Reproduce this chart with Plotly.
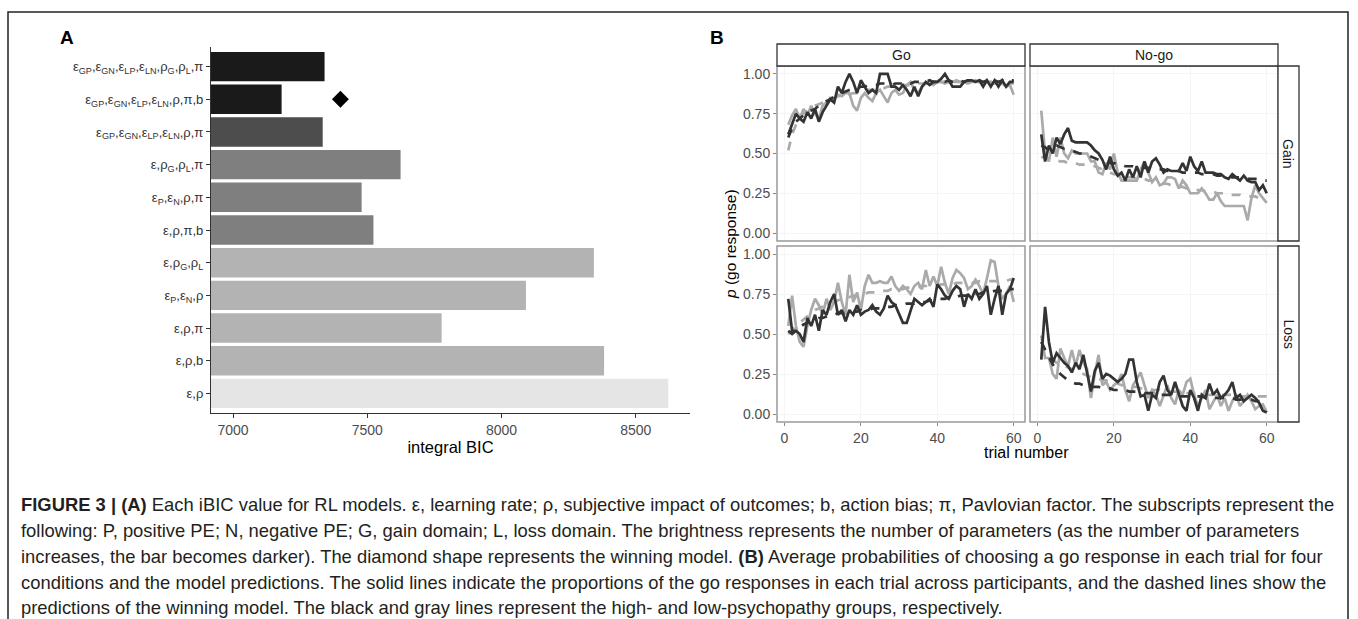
import plotly.graph_objects as go

W, H = 1358, 619

# ---------------- Panel A data ----------------
models = [
    "ε<sub>GP</sub>,ε<sub>GN</sub>,ε<sub>LP</sub>,ε<sub>LN</sub>,ρ<sub>G</sub>,ρ<sub>L</sub>,π",
    "ε<sub>GP</sub>,ε<sub>GN</sub>,ε<sub>LP</sub>,ε<sub>LN</sub>,ρ,π,b",
    "ε<sub>GP</sub>,ε<sub>GN</sub>,ε<sub>LP</sub>,ε<sub>LN</sub>,ρ,π",
    "ε,ρ<sub>G</sub>,ρ<sub>L</sub>,π",
    "ε<sub>P</sub>,ε<sub>N</sub>,ρ,π",
    "ε,ρ,π,b",
    "ε,ρ<sub>G</sub>,ρ<sub>L</sub>",
    "ε<sub>P</sub>,ε<sub>N</sub>,ρ",
    "ε,ρ,π",
    "ε,ρ,b",
    "ε,ρ",
]
ibic = [7341, 7181, 7334, 7624, 7479, 7523, 8344, 8091, 7777, 8382, 8621]
bar_colors = ["#1a1a1a", "#1a1a1a", "#4d4d4d", "#7f7f7f", "#7f7f7f", "#7f7f7f",
              "#b3b3b3", "#b3b3b3", "#b3b3b3", "#b3b3b3", "#e5e5e5"]
winner_model = models[1]
winner_x = [7400]
x_ticks_A = [7000, 7500, 8000, 8500]

# ---------------- Panel B data ----------------
trials = list(range(1, 61))

go_gain_high = [0.62, 0.68, 0.75, 0.72, 0.70, 0.76, 0.72, 0.78, 0.70, 0.76,
                0.80, 0.84, 0.82, 0.92, 0.88, 0.95, 1.00, 0.95, 0.88, 0.96,
                0.92, 0.88, 0.90, 0.88, 1.00, 1.00, 1.00, 0.92, 0.92, 0.90,
                0.93, 0.90, 0.86, 0.92, 0.86, 0.92, 0.95, 0.93, 0.95, 0.95,
                0.97, 1.00, 0.96, 0.92, 0.92, 0.92, 0.95, 0.96, 0.96, 0.95,
                0.96, 0.92, 0.96, 0.92, 0.96, 0.92, 0.96, 0.92, 0.95, 0.95]
go_gain_high_pred = [0.60, 0.66, 0.70, 0.72, 0.74, 0.76, 0.77, 0.78, 0.80, 0.82,
                     0.83, 0.84, 0.86, 0.87, 0.88, 0.89, 0.90, 0.91, 0.91, 0.92,
                     0.92, 0.93, 0.93, 0.93, 0.94, 0.94, 0.94, 0.93, 0.94, 0.94,
                     0.94, 0.95, 0.94, 0.95, 0.95, 0.95, 0.95, 0.96, 0.95, 0.95,
                     0.96, 0.95, 0.96, 0.95, 0.96, 0.96, 0.95, 0.96, 0.96, 0.95,
                     0.96, 0.95, 0.96, 0.95, 0.96, 0.95, 0.96, 0.95, 0.96, 0.96]
go_gain_low = [0.68, 0.74, 0.78, 0.72, 0.78, 0.74, 0.80, 0.75, 0.72, 0.80,
               0.82, 0.85, 0.84, 0.87, 0.86, 0.88, 0.88, 0.80, 0.77, 0.85,
               0.88, 0.85, 0.83, 0.88, 0.90, 0.86, 0.82, 0.88, 0.90, 0.87,
               0.88, 0.93, 0.95, 0.90, 0.88, 0.92, 0.94, 0.95, 0.93, 0.95,
               0.95, 0.94, 0.95, 0.95, 0.96, 0.95, 0.95, 0.94, 0.95, 0.96,
               0.95, 0.94, 0.95, 0.95, 0.94, 0.95, 0.94, 0.92, 0.93, 0.87]
go_gain_low_pred = [0.52, 0.62, 0.68, 0.72, 0.75, 0.77, 0.79, 0.80, 0.81, 0.82,
                    0.83, 0.84, 0.85, 0.86, 0.86, 0.87, 0.87, 0.88, 0.88, 0.89,
                    0.89, 0.90, 0.90, 0.90, 0.91, 0.91, 0.92, 0.92, 0.92, 0.93,
                    0.93, 0.93, 0.93, 0.94, 0.94, 0.94, 0.94, 0.94, 0.94, 0.95,
                    0.95, 0.95, 0.95, 0.95, 0.95, 0.95, 0.95, 0.95, 0.95, 0.95,
                    0.95, 0.95, 0.95, 0.95, 0.94, 0.94, 0.94, 0.94, 0.94, 0.94]

nogo_gain_high = [0.62, 0.45, 0.55, 0.50, 0.60, 0.56, 0.62, 0.66, 0.58, 0.57,
                  0.57, 0.57, 0.57, 0.55, 0.52, 0.50, 0.46, 0.40, 0.48, 0.40,
                  0.36, 0.38, 0.33, 0.40, 0.35, 0.42, 0.35, 0.45, 0.38, 0.45,
                  0.47, 0.43, 0.38, 0.40, 0.39, 0.39, 0.39, 0.44, 0.39, 0.48,
                  0.42, 0.39, 0.45, 0.38, 0.38, 0.38, 0.37, 0.37, 0.35, 0.34,
                  0.37, 0.35, 0.33, 0.36, 0.33, 0.32, 0.32, 0.27, 0.30, 0.25]
nogo_gain_high_pred = [0.55, 0.54, 0.52, 0.54, 0.55, 0.54, 0.53, 0.53, 0.52, 0.51,
                       0.50, 0.50, 0.49, 0.48, 0.47, 0.46, 0.45, 0.45, 0.44, 0.44,
                       0.43, 0.43, 0.42, 0.42, 0.42, 0.41, 0.41, 0.41, 0.41, 0.40,
                       0.40, 0.40, 0.40, 0.39, 0.39, 0.39, 0.39, 0.38, 0.38, 0.38,
                       0.38, 0.38, 0.37, 0.37, 0.37, 0.37, 0.36, 0.36, 0.36, 0.36,
                       0.35, 0.35, 0.35, 0.35, 0.34, 0.34, 0.34, 0.34, 0.33, 0.33]
nogo_gain_low = [0.77, 0.50, 0.45, 0.60, 0.48, 0.60, 0.50, 0.47, 0.52, 0.50,
                 0.50, 0.50, 0.50, 0.45, 0.45, 0.38, 0.37, 0.44, 0.40, 0.50,
                 0.38, 0.33, 0.33, 0.33, 0.33, 0.33, 0.40, 0.45, 0.38, 0.32,
                 0.35, 0.30, 0.31, 0.35, 0.35, 0.34, 0.28, 0.33, 0.30, 0.25,
                 0.25, 0.25, 0.28, 0.25, 0.21, 0.21, 0.25, 0.20, 0.17, 0.17,
                 0.17, 0.17, 0.17, 0.17, 0.08, 0.22, 0.30, 0.25, 0.22, 0.19]
nogo_gain_low_pred = [0.48, 0.47, 0.47, 0.46, 0.46, 0.45, 0.45, 0.44, 0.44, 0.44,
                      0.43, 0.43, 0.43, 0.42, 0.42, 0.41, 0.40, 0.39, 0.38, 0.37,
                      0.37, 0.36, 0.36, 0.35, 0.35, 0.34, 0.34, 0.34, 0.33, 0.33,
                      0.32, 0.32, 0.31, 0.31, 0.30, 0.30, 0.29, 0.29, 0.28, 0.28,
                      0.27, 0.27, 0.27, 0.26, 0.26, 0.26, 0.25, 0.25, 0.25, 0.24,
                      0.24, 0.24, 0.24, 0.23, 0.23, 0.23, 0.23, 0.22, 0.22, 0.22]

go_loss_high = [0.72, 0.52, 0.52, 0.50, 0.45, 0.60, 0.55, 0.62, 0.52, 0.65,
                0.62, 0.70, 0.75, 0.62, 0.65, 0.58, 0.65, 0.62, 0.68, 0.62,
                0.64, 0.65, 0.68, 0.64, 0.62, 0.66, 0.74, 0.70, 0.68, 0.62,
                0.57, 0.57, 0.65, 0.72, 0.70, 0.68, 0.70, 0.72, 0.67, 0.81,
                0.78, 0.74, 0.72, 0.77, 0.80, 0.78, 0.67, 0.75, 0.72, 0.78,
                0.72, 0.75, 0.80, 0.62, 0.72, 0.80, 0.62, 0.75, 0.78, 0.85]
go_loss_high_pred = [0.52, 0.50, 0.52, 0.54, 0.56, 0.57, 0.58, 0.59, 0.60, 0.60,
                     0.61, 0.62, 0.62, 0.63, 0.63, 0.63, 0.64, 0.64, 0.64, 0.65,
                     0.65, 0.65, 0.66, 0.66, 0.66, 0.67, 0.67, 0.67, 0.68, 0.68,
                     0.68, 0.69, 0.69, 0.69, 0.70, 0.70, 0.70, 0.71, 0.71, 0.72,
                     0.72, 0.72, 0.73, 0.73, 0.73, 0.74, 0.74, 0.74, 0.75, 0.75,
                     0.75, 0.76, 0.76, 0.76, 0.77, 0.77, 0.77, 0.78, 0.78, 0.78]
go_loss_low = [0.55, 0.74, 0.55, 0.45, 0.42, 0.55, 0.65, 0.72, 0.68, 0.62,
               0.72, 0.65, 0.70, 0.82, 0.70, 0.62, 0.87, 0.70, 0.76, 0.65,
               0.80, 0.87, 0.82, 0.82, 0.83, 0.82, 0.82, 0.86, 0.80, 0.77,
               0.80, 0.78, 0.75, 0.80, 0.82, 0.78, 0.90, 0.80, 0.86, 0.80,
               0.92, 0.82, 0.75, 0.85, 0.90, 0.88, 0.85, 0.78, 0.80, 0.84,
               0.80, 0.75, 0.85, 0.96, 0.95, 0.80, 0.72, 0.75, 0.80, 0.70]
go_loss_low_pred = [0.50, 0.52, 0.55, 0.57, 0.59, 0.61, 0.63, 0.65, 0.66, 0.67,
                    0.68, 0.69, 0.70, 0.71, 0.72, 0.72, 0.73, 0.74, 0.74, 0.75,
                    0.75, 0.76, 0.76, 0.76, 0.77, 0.77, 0.77, 0.78, 0.78, 0.78,
                    0.78, 0.79, 0.79, 0.79, 0.79, 0.80, 0.80, 0.80, 0.80, 0.80,
                    0.81, 0.81, 0.81, 0.81, 0.82, 0.82, 0.82, 0.82, 0.82, 0.82,
                    0.83, 0.83, 0.83, 0.83, 0.83, 0.83, 0.83, 0.83, 0.84, 0.84]

nogo_loss_high = [0.34, 0.67, 0.45, 0.32, 0.38, 0.35, 0.32, 0.30, 0.26, 0.32,
                  0.28, 0.37, 0.25, 0.14, 0.27, 0.32, 0.22, 0.25, 0.24, 0.22,
                  0.20, 0.22, 0.25, 0.34, 0.34, 0.20, 0.11, 0.12, 0.02, 0.12,
                  0.10, 0.20, 0.24, 0.15, 0.12, 0.20, 0.13, 0.05, 0.02, 0.15,
                  0.10, 0.02, 0.12, 0.10, 0.19, 0.12, 0.15, 0.10, 0.12, 0.15,
                  0.20, 0.10, 0.12, 0.08, 0.10, 0.12, 0.10, 0.07, 0.02, 0.01]
nogo_loss_high_pred = [0.45, 0.40, 0.35, 0.31, 0.28, 0.25, 0.23, 0.21, 0.20, 0.19,
                       0.19, 0.18, 0.18, 0.17, 0.17, 0.17, 0.16, 0.16, 0.16, 0.15,
                       0.15, 0.15, 0.15, 0.14, 0.14, 0.14, 0.14, 0.13, 0.13, 0.13,
                       0.12, 0.12, 0.12, 0.12, 0.12, 0.12, 0.11, 0.11, 0.11, 0.11,
                       0.11, 0.11, 0.11, 0.10, 0.10, 0.10, 0.10, 0.10, 0.10, 0.10,
                       0.10, 0.09, 0.09, 0.09, 0.09, 0.09, 0.08, 0.08, 0.08, 0.08]
nogo_loss_low = [0.49, 0.35, 0.35, 0.25, 0.22, 0.41, 0.35, 0.30, 0.40, 0.30,
                 0.40, 0.32, 0.28, 0.10, 0.25, 0.37, 0.18, 0.20, 0.15, 0.18,
                 0.20, 0.25, 0.15, 0.08, 0.18, 0.22, 0.26, 0.18, 0.10, 0.15,
                 0.12, 0.05, 0.12, 0.18, 0.10, 0.06, 0.15, 0.12, 0.20, 0.22,
                 0.12, 0.05, 0.10, 0.15, 0.03, 0.08, 0.12, 0.05, 0.10, 0.02,
                 0.08, 0.12, 0.05, 0.08, 0.12, 0.08, 0.03, 0.05, 0.06, 0.01]
nogo_loss_low_pred = [0.45, 0.40, 0.37, 0.34, 0.32, 0.31, 0.30, 0.29, 0.28, 0.27,
                      0.26, 0.25, 0.24, 0.23, 0.22, 0.22, 0.21, 0.21, 0.20, 0.19,
                      0.19, 0.18, 0.18, 0.17, 0.17, 0.17, 0.16, 0.16, 0.15, 0.15,
                      0.15, 0.15, 0.14, 0.14, 0.14, 0.14, 0.13, 0.13, 0.13, 0.13,
                      0.13, 0.13, 0.12, 0.12, 0.12, 0.12, 0.12, 0.12, 0.12, 0.12,
                      0.12, 0.12, 0.11, 0.11, 0.11, 0.11, 0.11, 0.11, 0.11, 0.11]

col_labels = ["Go", "No-go"]
row_labels = ["Gain", "Loss"]
y_ticks_B = [0, 0.25, 0.5, 0.75, 1.0]
y_ticktext_B = ["0.00", "0.25", "0.50", "0.75", "1.00"]
x_ticks_B = [0, 20, 40, 60]

caption_lines = [
    "<b>FIGURE 3 | (A)</b> Each iBIC value for RL models. ε, learning rate; ρ, subjective impact of outcomes; b, action bias; π, Pavlovian factor. The subscripts represent the",
    "following: P, positive PE; N, negative PE; G, gain domain; L, loss domain. The brightness represents the number of parameters (as the number of parameters",
    "increases, the bar becomes darker). The diamond shape represents the winning model. <b>(B)</b> Average probabilities of choosing a go response in each trial for four",
    "conditions and the model predictions. The solid lines indicate the proportions of the go responses in each trial across participants, and the dashed lines show the",
    "predictions of the winning model. The black and gray lines represent the high- and low-psychopathy groups, respectively.",
]

# ---------------- helpers (pixel -> paper) ----------------
def px(x):
    return x / W

def py(y):
    return 1 - y / H

FONT = "Liberation Sans, Arial, sans-serif"
BLACK_LINE = "#333333"
GRAY_LINE = "#aaaaaa"

fig = go.Figure()

# Panel A bars
fig.add_trace(go.Bar(
    x=ibic, y=models, orientation="h", marker=dict(color=bar_colors, line=dict(width=0)),
    width=0.9, xaxis="x", yaxis="y", hoverinfo="x+y"))
fig.add_trace(go.Scatter(
    x=winner_x, y=[winner_model], mode="markers",
    marker=dict(symbol="diamond", size=13, color="black"), xaxis="x", yaxis="y"))

# Panel B lines
panels = [
    ("x2", "y2", go_gain_high, go_gain_high_pred, go_gain_low, go_gain_low_pred),
    ("x3", "y3", nogo_gain_high, nogo_gain_high_pred, nogo_gain_low, nogo_gain_low_pred),
    ("x4", "y4", go_loss_high, go_loss_high_pred, go_loss_low, go_loss_low_pred),
    ("x5", "y5", nogo_loss_high, nogo_loss_high_pred, nogo_loss_low, nogo_loss_low_pred),
]
for xa, ya, hi, hi_p, lo, lo_p in panels:
    fig.add_trace(go.Scatter(x=trials, y=lo, mode="lines", line=dict(color=GRAY_LINE, width=2.7),
                             xaxis=xa, yaxis=ya))
    fig.add_trace(go.Scatter(x=trials, y=lo_p, mode="lines", line=dict(color=GRAY_LINE, width=2.7, dash="dash"),
                             xaxis=xa, yaxis=ya))
    fig.add_trace(go.Scatter(x=trials, y=hi, mode="lines", line=dict(color=BLACK_LINE, width=2.7),
                             xaxis=xa, yaxis=ya))
    fig.add_trace(go.Scatter(x=trials, y=hi_p, mode="lines", line=dict(color=BLACK_LINE, width=2.7, dash="dash"),
                             xaxis=xa, yaxis=ya))

# Geometry (pixels)
A_left, A_right, A_top, A_bot = 211, 690, 47, 413
col_x = [(777, 1025), (1030, 1278)]
row_y = [(66, 241), (246, 422)]
strip_top = 44
strip_right = 1299

tickfont = dict(family=FONT, size=14, color="#4d4d4d")

layout = dict(
    width=W, height=H, margin=dict(l=0, r=0, t=0, b=0),
    paper_bgcolor="white", plot_bgcolor="white", showlegend=False,
    font=dict(family=FONT, color="black"),
    bargap=0.1,
    xaxis=dict(domain=[px(A_left), px(A_right)], range=[6918, 8702], tickvals=x_ticks_A,
               showline=True, linecolor="#333333", linewidth=1.2, ticks="outside", ticklen=4,
               tickcolor="#333333", showgrid=False, zeroline=False, tickfont=tickfont,
               title=dict(text="integral BIC", font=dict(family=FONT, size=16.5, color="black"), standoff=3),
               anchor="y"),
    yaxis=dict(domain=[py(A_bot), py(A_top)], type="category", categoryorder="array",
               categoryarray=models, range=[10.6, -0.6], showline=True, linecolor="#333333",
               linewidth=1.2, ticks="outside", ticklen=4, tickcolor="#333333", showgrid=False,
               zeroline=False, tickfont=dict(family=FONT, size=13, color="#333333"), anchor="x"),
)

axis_ids = [("2", 0, 0), ("3", 1, 0), ("4", 0, 1), ("5", 1, 1)]
for aid, c, r in axis_ids:
    x0, x1 = col_x[c]
    y0, y1 = row_y[r]
    layout["xaxis" + aid] = dict(
        domain=[px(x0), px(x1)], range=[-1.95, 62.95], tickvals=x_ticks_B, anchor="y" + aid,
        showgrid=True, gridcolor="#f5f5f5", gridwidth=1, zeroline=False, showline=False,
        ticks="outside" if r == 1 else "", ticklen=3, tickcolor="#888888",
        showticklabels=(r == 1), tickfont=tickfont)
    layout["yaxis" + aid] = dict(
        domain=[py(y1), py(y0)], range=[-0.05, 1.05], tickvals=y_ticks_B, ticktext=y_ticktext_B,
        anchor="x" + aid, showgrid=True, gridcolor="#f5f5f5", gridwidth=1, zeroline=False,
        showline=False, ticks="outside" if c == 0 else "", ticklen=3, tickcolor="#888888",
        showticklabels=(c == 0), tickfont=tickfont)

shapes = []
annotations = []
# outer frame
shapes.append(dict(type="rect", xref="paper", yref="paper", x0=px(8), x1=px(1348), y0=py(640), y1=py(12),
                   line=dict(color="#222222", width=1.5), fillcolor="rgba(0,0,0,0)", layer="below"))
# panel B borders and strips
for c, (x0, x1) in enumerate(col_x):
    for r, (y0, y1) in enumerate(row_y):
        shapes.append(dict(type="rect", xref="paper", yref="paper", x0=px(x0), x1=px(x1), y0=py(y1), y1=py(y0),
                           line=dict(color="#999999", width=1.5), fillcolor="rgba(0,0,0,0)"))
    shapes.append(dict(type="rect", xref="paper", yref="paper", x0=px(x0), x1=px(x1), y0=py(row_y[0][0]),
                       y1=py(strip_top), line=dict(color="#333333", width=1.3), fillcolor="white"))
    annotations.append(dict(text=col_labels[c], xref="paper", yref="paper", x=px((x0 + x1) / 2),
                            y=py((strip_top + row_y[0][0]) / 2), showarrow=False,
                            font=dict(family=FONT, size=14, color="#1a1a1a"),
                            xanchor="center", yanchor="middle"))
for r, (y0, y1) in enumerate(row_y):
    shapes.append(dict(type="rect", xref="paper", yref="paper", x0=px(col_x[1][1]), x1=px(strip_right),
                       y0=py(y1), y1=py(y0), line=dict(color="#333333", width=1.3), fillcolor="white"))
    annotations.append(dict(text=row_labels[r], xref="paper", yref="paper",
                            x=px((col_x[1][1] + strip_right) / 2), y=py((y0 + y1) / 2), showarrow=False,
                            textangle=90, font=dict(family=FONT, size=14, color="#1a1a1a"),
                            xanchor="center", yanchor="middle"))

# panel letters
annotations.append(dict(text="<b>A</b>", xref="paper", yref="paper", x=px(67), y=py(38), showarrow=False,
                        font=dict(family=FONT, size=19, color="black"), xanchor="center", yanchor="middle"))
annotations.append(dict(text="<b>B</b>", xref="paper", yref="paper", x=px(717), y=py(38), showarrow=False,
                        font=dict(family=FONT, size=19, color="black"), xanchor="center", yanchor="middle"))
# panel B axis titles
annotations.append(dict(text="<i>p</i> (go response)", xref="paper", yref="paper", x=px(730), y=py(244),
                        showarrow=False, textangle=-90, font=dict(family=FONT, size=15.5, color="black"),
                        xanchor="center", yanchor="middle"))
annotations.append(dict(text="trial number", xref="paper", yref="paper", x=px(1026), y=py(453),
                        showarrow=False, font=dict(family=FONT, size=16, color="black"),
                        xanchor="center", yanchor="middle"))
# caption
cap_y = [504, 530, 556, 582, 607]
for txt, yy in zip(caption_lines, cap_y):
    annotations.append(dict(text=txt, xref="paper", yref="paper", x=px(19), y=py(yy), showarrow=False,
                            font=dict(family=FONT, size=18.4, color="#231f20"), xanchor="left",
                            yanchor="middle"))

layout["shapes"] = shapes
layout["annotations"] = annotations
fig.update_layout(**layout)

fig.write_html("out.html")
